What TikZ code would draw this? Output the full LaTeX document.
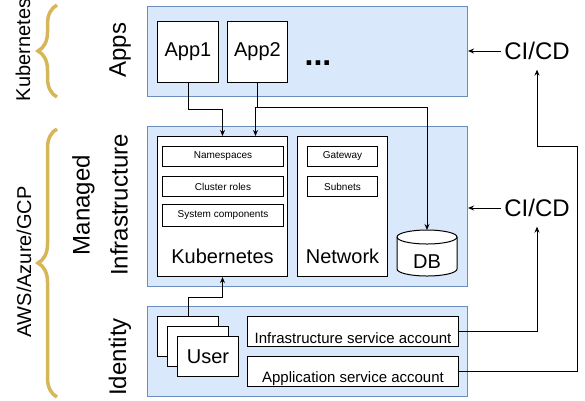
\documentclass[tikz,border=0pt]{standalone}
\usepackage{fontspec}
\setmainfont{Liberation Sans}
\usetikzlibrary{arrows.meta,decorations.pathreplacing}

\definecolor{layerfill}{HTML}{DAE8FC}
\definecolor{layerline}{HTML}{6C8EBF}
\definecolor{bracegold}{HTML}{D6B656}

\tikzset{
  layer/.style={draw=layerline, fill=layerfill, anchor=north west, minimum width=320pt, inner sep=0pt},
  box/.style={draw, fill=white, anchor=north west, inner sep=0pt},
  arr/.style={-{Stealth[length=6pt,width=5pt]}},
  brc/.style={draw=bracegold, line width=3.5pt, decorate, decoration={brace, amplitude=19pt}},
  huge txt/.style={font=\fontsize{24}{38}\selectfont},
  big txt/.style={font=\fontsize{20}{24}\selectfont},
  mid txt/.style={font=\fontsize{15}{18}\selectfont},
  small txt/.style={font=\fontsize{10}{12}\selectfont},
}

\begin{document}
\begin{tikzpicture}[x=1pt, y=-1pt, line width=1pt]
\useasboundingbox (0,0) rectangle (585,400);

% layers
\node[layer, minimum height=90pt] (apps) at (147,6) {};
\node[layer, minimum height=160pt] (infra) at (147,126) {};
\node[layer, minimum height=90pt] (ident) at (147,306) {};

% apps
\node[box, big txt, minimum width=61pt, minimum height=61pt] (app1) at (157,21) {App1};
\node[box, big txt, minimum width=60pt, minimum height=61pt] (app2) at (227,21) {App2};
\node[font=\fontsize{32}{32}\selectfont\bfseries, anchor=base] (more) at (318,65) {...};

% kubernetes
\node[box, minimum width=130pt, minimum height=140pt] (kube) at (157,136) {};
\node[box, small txt, minimum width=121pt, minimum height=20pt] (ns) at (162,146) {Namespaces};
\node[box, small txt, minimum width=121pt, minimum height=20pt] (roles) at (162,176) {Cluster roles};
\node[box, small txt, minimum width=121pt, minimum height=22pt] (syscomp) at (162,204) {System components};
\node[big txt] (kubelbl) at ([yshift=21pt]kube.south) {Kubernetes};

% network
\node[box, minimum width=90pt, minimum height=140pt] (net) at (297,136) {};
\node[box, small txt, minimum width=70pt, minimum height=20pt] (gw) at (307,146) {Gateway};
\node[box, small txt, minimum width=70pt, minimum height=20pt] (subnets) at (307,176) {Subnets};
\node[big txt] (netlbl) at ([yshift=21pt]net.south) {Network};

% database
\coordinate (db top) at (427,230);
\filldraw[fill=white] (397,237) -- (397,269) arc[start angle=180, end angle=360, x radius=30pt, y radius=7pt]
  -- (457,237) arc[start angle=0, end angle=180, x radius=30pt, y radius=7pt] -- cycle;
\draw (397,237) arc[start angle=180, end angle=360, x radius=30pt, y radius=7pt];
\node[big txt] (db) at (427,262) {DB};

% identity
\foreach \i/\t in {1/, 2/, 3/User}
  \node[box, big txt, minimum width=61pt, minimum height=40pt] (user\i) at ({147+10*\i},{306+10*\i}) {\t};
\node[box, minimum width=211pt, minimum height=30pt] (infrasa) at (247,316) {};
\node[mid txt] (infrasalbl) at ([yshift=-7pt]infrasa.center) {Infrastructure service account};
\node[box, minimum width=211pt, minimum height=30pt] (appsa) at (247,356) {};
\node[mid txt] (appsalbl) at ([yshift=-7pt]appsa.center) {Application service account};

% ci/cd
\node[huge txt] (cicd1) at (537,51) {CI/CD};
\node[huge txt] (cicd2) at (537,208) {CI/CD};
\draw[arr] (cicd1.west) -- (cicd1.west -| apps.east);
\draw[arr] (cicd2.west) -- (cicd2.west -| infra.east);

% connectors
\draw[arr] (app1.south) -- ++(0,26) -| (kube.north);
\draw[arr] (app2.south) -- ++(0,24) -| ([xshift=33pt]kube.north);
\draw[arr] (app2.south) -- ++(0,24) -| (db top);
\draw[arr] (user1.north) -- ++(0,-19) -| (kube.south);
\draw[arr, shorten >=6pt] (infrasa.east) -| (cicd2.south);
\coordinate (bend) at (577,146);
\draw[arr, shorten >=6pt] (appsa.east) -| (bend) -| (cicd1.south);

% left labels
\node[huge txt, rotate=90] (appslbl) at (120,50) {Apps};
\node[huge txt, rotate=90, align=center] (infralbl) at (100,205) {Managed\\Infrastructure};
\node[huge txt, rotate=90] (identlbl) at (120,357) {Identity};
\node[big txt, rotate=90] (k8slbl) at (23,50) {Kubernetes};
\node[big txt, rotate=90] (cloudlbl) at (24,262) {AWS/Azure/GCP};

% braces
\draw[brc] (57,97) -- (57,5);
\draw[brc] (57,397) -- (57,129);
\end{tikzpicture}
\end{document}
